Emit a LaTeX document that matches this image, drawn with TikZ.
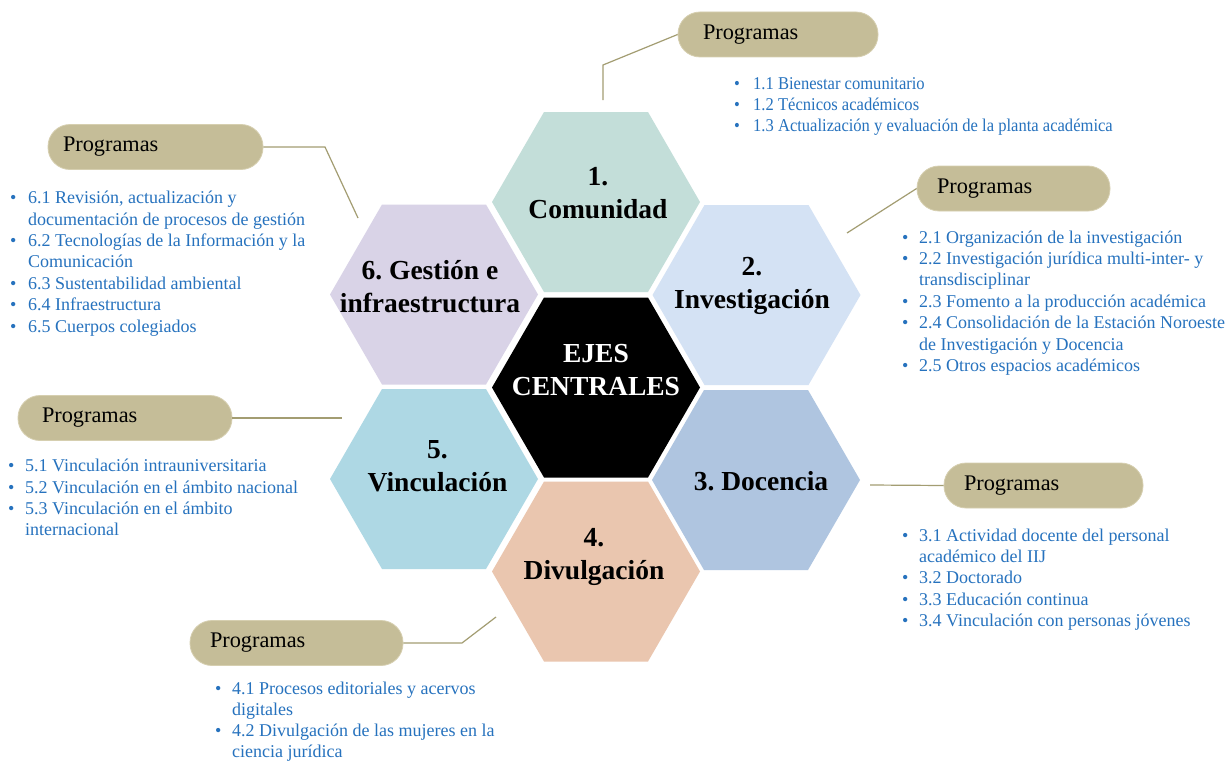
\documentclass[tikz,border=0pt]{standalone}
\usepackage{fontspec}
\setmainfont{Liberation Serif}
\newfontfamily\condserif[FakeStretch=0.92]{Liberation Serif}
\usetikzlibrary{calc}
\definecolor{khaki}{HTML}{C5BD98}
\definecolor{khakiedge}{HTML}{D6CFB0}
\definecolor{lineclr}{HTML}{A39D72}
\definecolor{listblue}{HTML}{2672BE}
\definecolor{hcom}{HTML}{C3DED9}
\definecolor{hinv}{HTML}{D4E2F4}
\definecolor{hdoc}{HTML}{AFC5E0}
\definecolor{hdiv}{HTML}{EAC6AF}
\definecolor{hvin}{HTML}{AED8E4}
\definecolor{hges}{HTML}{D9D3E7}
\newcommand\bul[1]{\makebox[#1][l]{\textbullet}}
\newcommand\cnt[1]{\hspace*{#1}}
\frenchspacing
\begin{document}
\begin{tikzpicture}[x=1pt,y=-1pt,
  hexlabel/.style={font=\fontsize{27.5}{33}\selectfont\bfseries, align=center, inner sep=0},
  pill/.style={fill=khaki, draw=khakiedge, line width=0.8pt, rounded corners=22pt, minimum height=45pt, align=left, inner ysep=0pt, font=\fontsize{22.3}{26}\selectfont, text=black},
  conn/.style={draw=lineclr, line width=1.2pt},
  list/.style={anchor=north west, inner sep=0pt, align=left, text=listblue, font=\fontsize{18}{21.4}\selectfont},
  hexa/.pic={\path[pic actions] (104,0) -- (52,90) -- (-52,90) -- (-104,0) -- (-52,-90) -- (52,-90) -- cycle;}
]
\useasboundingbox (0,0) rectangle (1228,760);
\fill[white] (0,0) rectangle (1228,760);

% hexagon centres
\coordinate (c0) at (596,387.5);
\coordinate (c1) at (596,202);
\coordinate (c2) at (756.5,295);
\coordinate (c3) at (756,480);
\coordinate (c4) at (596,571.5);
\coordinate (c5) at (434,479);
\coordinate (c6) at (434,294.5);

\pic[fill=hcom] at (c1) {hexa};
\pic[fill=hinv] at (c2) {hexa};
\pic[fill=hdoc] at (c3) {hexa};
\pic[fill=hdiv] at (c4) {hexa};
\pic[fill=hvin] at (c5) {hexa};
\pic[fill=hges] at (c6) {hexa};
\pic[fill=black] at (c0) {hexa};

\node[hexlabel, text=white] (t0) at (596,370) {EJES\\CENTRALES};
\node[hexlabel] (t1) at (598,193.5) {1.\\Comunidad};
\node[hexlabel] (t2) at (752,285.5) {2.\\Investigación};
\node[hexlabel] (t3) at (761,481) {3. Docencia};
\node[hexlabel] (t4) at (594,556.5) {4.\\Divulgación};
\node[hexlabel] (t5) at (437.5,466) {5.\\Vinculación};
\node[hexlabel] (t6) at (430,286.5) {6. Gestión e\\infraestructura};

% Programas pills
\node[pill, text width=150pt, inner xsep=25pt] (p1) at (778,34.5) {Programas};
\node[pill, text width=153pt, inner xsep=20pt] (p2) at (1013.5,188.5) {Programas};
\node[pill, text width=159pt, inner xsep=20pt] (p3) at (1043.5,485.5) {Programas};
\node[pill, text width=173pt, inner xsep=20pt] (p4) at (296.5,643) {Programas};
\node[pill, text width=166pt, inner xsep=24pt] (p5) at (125,418) {Programas};
\node[pill, text width=185pt, inner xsep=15pt] (p6) at (155.5,147) {Programas};

% connectors
\coordinate (k1a) at (603,65);
\coordinate (k1b) at (603,100);
\draw[conn] (p1.west) -- (k1a) -- (k1b);
\coordinate (k2) at (847,233);
\draw[conn] (p2.west) -- (k2);
\coordinate (k3) at (870,485);
\draw[conn] (k3) -- (p3.west);
\coordinate (k4a) at (462,643);
\coordinate (k4b) at (496,617);
\draw[conn] (p4.east) -- (k4a) -- (k4b);
\coordinate (k5) at (342,418);
\draw[conn] (p5.east) -- (k5);
\coordinate (k6a) at (325,147);
\coordinate (k6b) at (358,218);
\draw[conn] (p6.east) -- (k6a) -- (k6b);

% program lists
\node[list, font=\condserif\fontsize{18}{21.4}\selectfont] (l1) at (734,74) {\strut\bul{19pt}1.1 Bienestar comunitario\\
\bul{19pt}1.2 Técnicos académicos\\
\bul{19pt}1.3 Actualización y evaluación de la planta académica};

\node[list] (l2) at (902,228) {\strut\bul{17pt}2.1 Organización de la investigación\\
\bul{17pt}2.2 Investigación jurídica multi-inter- y\\
\cnt{17pt}transdisciplinar\\
\bul{17pt}2.3 Fomento a la producción académica\\
\bul{17pt}2.4 Consolidación de la Estación Noroeste\\
\cnt{17pt}de Investigación y Docencia\\
\bul{17pt}2.5 Otros espacios académicos};

\node[list] (l3) at (902,526) {\strut\bul{17pt}3.1 Actividad docente del personal\\
\cnt{17pt}académico del IIJ\\
\bul{17pt}3.2 Doctorado\\
\bul{17pt}3.3 Educación continua\\
\bul{17pt}3.4 Vinculación con personas jóvenes};

\node[list, font=\fontsize{18}{21}\selectfont] (l4) at (215,680) {\strut\bul{17pt}4.1 Procesos editoriales y acervos\\
\cnt{17pt}digitales\\
\bul{17pt}4.2 Divulgación de las mujeres en la\\
\cnt{17pt}ciencia jurídica};

\node[list] (l5) at (8,456.5) {\strut\bul{17pt}5.1 Vinculación intrauniversitaria\\
\bul{17pt}5.2 Vinculación en el ámbito nacional\\
\bul{17pt}5.3 Vinculación en el ámbito\\
\cnt{17pt}internacional};

\node[list] (l6) at (10,188.5) {\strut\bul{18pt}6.1 Revisión, actualización y\\
\cnt{18pt}documentación de procesos de gestión\\
\bul{18pt}6.2 Tecnologías de la Información y la\\
\cnt{18pt}Comunicación\\
\bul{18pt}6.3 Sustentabilidad ambiental\\
\bul{18pt}6.4 Infraestructura\\
\bul{18pt}6.5 Cuerpos colegiados};
\end{tikzpicture}
\end{document}
